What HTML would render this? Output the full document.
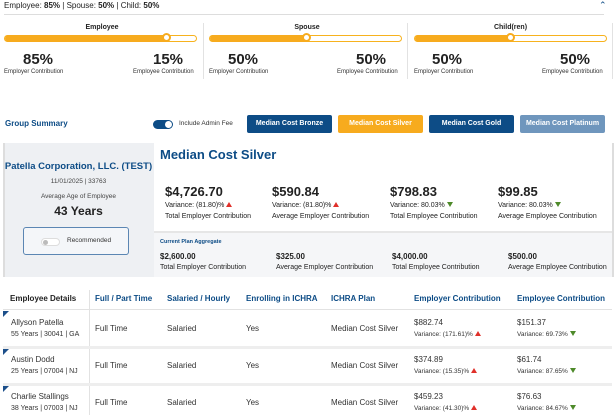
<!DOCTYPE html>
<html><head><meta charset="utf-8"><style>
*{margin:0;padding:0;box-sizing:border-box}
body{width:614px;height:415px;overflow:hidden;background:#fff;font-family:"Liberation Sans",sans-serif;color:#222;position:relative}
.a{position:absolute;white-space:nowrap}
.blue{color:#0d4c86}
.bar{position:absolute;height:7px;border:1px solid #f7b21e;border-radius:4px;background:#fff}
.fill{position:absolute;left:0;top:-1px;height:7px;background:#f7ab1e;border-radius:4px}
.knob{position:absolute;top:-3px;width:9px;height:9px;border-radius:50%;background:#fff;border:2px solid #f7ab1e}
.pct{font-size:15px;font-weight:bold;color:#222}
.sm{font-size:6px;color:#333}
.btn{position:absolute;top:115px;height:18px;width:85px;border-radius:2px;color:#fff;font-size:7px;font-weight:bold;text-align:center;line-height:18px}
.v{font-size:13px;font-weight:bold}
.s7{font-size:7px}
.up{display:inline-block;width:0;height:0;border-left:3px solid transparent;border-right:3px solid transparent;border-bottom:5px solid #e0302a;margin-left:2px}
.dn{display:inline-block;width:0;height:0;border-left:3px solid transparent;border-right:3px solid transparent;border-top:5px solid #4e8a2a;margin-left:2px}
.th{font-size:8px;font-weight:bold;color:#0d4c86}
.td{font-size:8px;color:#333}
.corner{position:absolute;left:3px;width:0;height:0;border-top:6px solid #1c4f8a;border-right:6px solid transparent}
</style></head><body>
<div class="a" style="left:4px;top:1px;font-size:8px">Employee: <b>85%</b> | Spouse: <b>50%</b> | Child: <b>50%</b></div>
<div class="a" style="left:599px;top:0px;font-size:9px;color:#0d4c86">&#8963;</div>
<div class="a" style="left:4px;top:14px;width:600px;height:1px;background:#ddd"></div>

<div class="a" style="left:203px;top:23px;width:1px;height:56px;background:#e2e2e2"></div>
<div class="a" style="left:407px;top:23px;width:1px;height:56px;background:#e2e2e2"></div>
<div class="a" style="left:612px;top:23px;width:1px;height:56px;background:#e2e2e2"></div>

<div class="a" style="left:4px;top:24px;width:196px;text-align:center;font-size:7px;font-weight:bold">Employee</div>
<div class="bar" style="left:4px;top:35px;width:193px"><div class="fill" style="width:163px"></div><div class="knob" style="left:157px"></div></div>
<div class="a pct" style="left:23px;top:51px">85%</div>
<div class="a sm" style="left:4px;top:69px">Employer Contribution</div>
<div class="a pct" style="left:153px;top:51px">15%</div>
<div class="a sm" style="left:133px;top:69px">Employee Contribution</div>

<div class="a" style="left:209px;top:24px;width:196px;text-align:center;font-size:7px;font-weight:bold">Spouse</div>
<div class="bar" style="left:209px;top:35px;width:193px"><div class="fill" style="width:97px"></div><div class="knob" style="left:92px"></div></div>
<div class="a pct" style="left:228px;top:51px">50%</div>
<div class="a sm" style="left:209px;top:69px">Employer Contribution</div>
<div class="a pct" style="left:356px;top:51px">50%</div>
<div class="a sm" style="left:337px;top:69px">Employee Contribution</div>

<div class="a" style="left:414px;top:24px;width:193px;text-align:center;font-size:7px;font-weight:bold">Child(ren)</div>
<div class="bar" style="left:414px;top:35px;width:193px"><div class="fill" style="width:96px"></div><div class="knob" style="left:91px"></div></div>
<div class="a pct" style="left:432px;top:51px">50%</div>
<div class="a sm" style="left:414px;top:69px">Employer Contribution</div>
<div class="a pct" style="left:560px;top:51px">50%</div>
<div class="a sm" style="left:542px;top:69px">Employee Contribution</div>

<div class="a blue" style="left:5px;top:119px;font-size:8px;font-weight:bold">Group Summary</div>
<div class="a" style="left:153px;top:120px;width:20px;height:9px;border-radius:5px;background:#0d4c86"><div style="position:absolute;right:1px;top:1px;width:7px;height:7px;border-radius:50%;background:#fff"></div></div>
<div class="a" style="left:179px;top:120px;font-size:6.5px;color:#333">Include Admin Fee</div>
<div class="btn" style="left:247px;background:#0d4c86">Median Cost Bronze</div>
<div class="btn" style="left:338px;background:#f7ab1e">Median Cost Silver</div>
<div class="btn" style="left:429px;background:#0d4c86">Median Cost Gold</div>
<div class="btn" style="left:520px;background:#6f96bd">Median Cost Platinum</div>

<div class="a" style="left:3px;top:143px;width:151px;height:134px;background:#eef0f3;border-left:2px solid #ddd"></div>
<div class="a" style="left:154px;top:231px;width:458px;height:46px;background:#f5f6f8;border-top:2px solid #e6e6e6"></div>
<div class="a" style="left:612px;top:143px;width:2px;height:134px;background:#ddd"></div>

<div class="a blue" style="left:160px;top:147px;font-size:13px;font-weight:bold">Median Cost Silver</div>
<div class="a blue" style="left:3px;top:161px;width:151px;text-align:center;font-size:9.5px;font-weight:bold">Patella Corporation, LLC. (TEST)</div>
<div class="a" style="left:3px;top:178px;width:151px;text-align:center;font-size:6.5px;color:#444">11/01/2025 | 33763</div>
<div class="a" style="left:3px;top:193px;width:151px;text-align:center;font-size:6.5px;color:#444">Average Age of Employee</div>
<div class="a" style="left:3px;top:204px;width:151px;text-align:center;font-size:12px;font-weight:bold">43 Years</div>
<div class="a" style="left:23px;top:227px;width:106px;height:28px;border:1px solid #5b86b3;border-radius:3px;background:#f4f6f9"></div>
<div class="a" style="left:41px;top:238px;width:19px;height:8px;border-radius:4px;background:#fff;border:1px solid #ddd"><div style="position:absolute;left:1px;top:1px;width:5px;height:5px;border-radius:50%;background:#bbb"></div></div>
<div class="a" style="left:67px;top:237px;font-size:6.5px;color:#333">Recommended</div>

<div class="a v" style="left:165px;top:184px">$4,726.70</div>
<div class="a s7" style="left:165px;top:202px">Variance: (81.80)%<span class="up"></span></div>
<div class="a s7" style="left:165px;top:213px">Total Employer Contribution</div>
<div class="a v" style="left:272px;top:184px">$590.84</div>
<div class="a s7" style="left:272px;top:202px">Variance: (81.80)%<span class="up"></span></div>
<div class="a s7" style="left:272px;top:213px">Average Employer Contribution</div>
<div class="a v" style="left:390px;top:184px">$798.83</div>
<div class="a s7" style="left:390px;top:202px">Variance: 80.03%<span class="dn"></span></div>
<div class="a s7" style="left:390px;top:213px">Total Employee Contribution</div>
<div class="a v" style="left:498px;top:184px">$99.85</div>
<div class="a s7" style="left:498px;top:202px">Variance: 80.03%<span class="dn"></span></div>
<div class="a s7" style="left:498px;top:213px">Average Employee Contribution</div>

<div class="a blue" style="left:160px;top:239px;font-size:5.5px;font-weight:bold">Current Plan Aggregate</div>
<div class="a" style="left:160px;top:252px;font-size:8px;font-weight:bold">$2,600.00</div>
<div class="a s7" style="left:160px;top:264px">Total Employer Contribution</div>
<div class="a" style="left:276px;top:252px;font-size:8px;font-weight:bold">$325.00</div>
<div class="a s7" style="left:276px;top:264px">Average Employer Contribution</div>
<div class="a" style="left:392px;top:252px;font-size:8px;font-weight:bold">$4,000.00</div>
<div class="a s7" style="left:392px;top:264px">Total Employee Contribution</div>
<div class="a" style="left:508px;top:252px;font-size:8px;font-weight:bold">$500.00</div>
<div class="a s7" style="left:508px;top:264px">Average Employee Contribution</div>

<!-- table -->
<div class="a" style="left:3px;top:309px;width:609px;height:1px;background:#e2e2e2"></div>
<div class="a" style="left:89px;top:290px;width:1px;height:125px;background:#e2e2e2"></div>
<div class="a" style="left:3px;top:346px;width:609px;height:3px;background:#eeeeee"></div>
<div class="a" style="left:3px;top:383px;width:609px;height:3px;background:#eeeeee"></div>
<div class="a th" style="left:10px;top:294px;color:#222">Employee Details</div>
<div class="a th" style="left:95px;top:294px">Full / Part Time</div>
<div class="a th" style="left:167px;top:294px">Salaried / Hourly</div>
<div class="a th" style="left:246px;top:294px">Enrolling in ICHRA</div>
<div class="a th" style="left:331px;top:294px">ICHRA Plan</div>
<div class="a th" style="left:414px;top:294px">Employer Contribution</div>
<div class="a th" style="left:517px;top:294px">Employee Contribution</div>

<div class="corner" style="top:311px"></div>
<div class="a td" style="left:11px;top:318px">Allyson Patella</div>
<div class="a td" style="left:11px;top:331px;font-size:7px">55 Years | 30041 | GA</div>
<div class="a td" style="left:95px;top:324px">Full Time</div>
<div class="a td" style="left:167px;top:324px">Salaried</div>
<div class="a td" style="left:246px;top:324px">Yes</div>
<div class="a td" style="left:331px;top:324px">Median Cost Silver</div>
<div class="a td" style="left:414px;top:318px">$882.74</div>
<div class="a td" style="left:414px;top:331px;font-size:6.5px">Variance: (171.61)%<span class="up"></span></div>
<div class="a td" style="left:517px;top:318px">$151.37</div>
<div class="a td" style="left:517px;top:331px;font-size:6.5px">Variance: 69.73%<span class="dn"></span></div>

<div class="corner" style="top:349px"></div>
<div class="a td" style="left:11px;top:355px">Austin Dodd</div>
<div class="a td" style="left:11px;top:368px;font-size:7px">25 Years | 07004 | NJ</div>
<div class="a td" style="left:95px;top:361px">Full Time</div>
<div class="a td" style="left:167px;top:361px">Salaried</div>
<div class="a td" style="left:246px;top:361px">Yes</div>
<div class="a td" style="left:331px;top:361px">Median Cost Silver</div>
<div class="a td" style="left:414px;top:355px">$374.89</div>
<div class="a td" style="left:414px;top:368px;font-size:6.5px">Variance: (15.35)%<span class="up"></span></div>
<div class="a td" style="left:517px;top:355px">$61.74</div>
<div class="a td" style="left:517px;top:368px;font-size:6.5px">Variance: 87.65%<span class="dn"></span></div>

<div class="corner" style="top:386px"></div>
<div class="a td" style="left:11px;top:392px">Charlie Stallings</div>
<div class="a td" style="left:11px;top:405px;font-size:7px">38 Years | 07003 | NJ</div>
<div class="a td" style="left:95px;top:398px">Full Time</div>
<div class="a td" style="left:167px;top:398px">Salaried</div>
<div class="a td" style="left:246px;top:398px">Yes</div>
<div class="a td" style="left:331px;top:398px">Median Cost Silver</div>
<div class="a td" style="left:414px;top:392px">$459.23</div>
<div class="a td" style="left:414px;top:405px;font-size:6.5px">Variance: (41.30)%<span class="up"></span></div>
<div class="a td" style="left:517px;top:392px">$76.63</div>
<div class="a td" style="left:517px;top:405px;font-size:6.5px">Variance: 84.67%<span class="dn"></span></div>
</body></html>
